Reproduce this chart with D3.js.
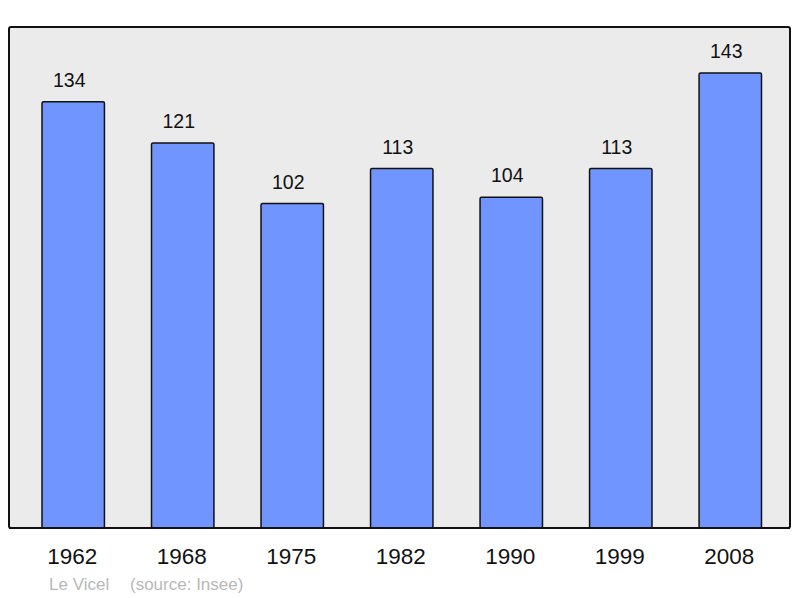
<!DOCTYPE html>
<html lang="fr">
<head>
  <meta charset="UTF-8">
  <title>Population</title>
  <script src="https://d3js.org/d3.v7.min.js"></script>
  <style>
    body, html { margin: 0; padding: 0; background: #fff; }
    svg { display: block; font-family: "Liberation Sans", Arial, sans-serif; }
  </style>
</head>
<body>
  <svg id="chart" width="800" height="598"></svg>
  <script>
    const years = ["1962", "1968", "1975", "1982", "1990", "1999", "2008"];
    const population = [134, 121, 102, 113, 104, 113, 143];
    const credit = "Le Vicel";
    const source = "(source: Insee)";

    const svg = d3.select("#chart");

    // frame of the plot
    const frame = { left: 9, top: 27, right: 790, bottom: 528 };

    svg.append("rect")
      .attr("x", frame.left)
      .attr("y", frame.top)
      .attr("width", frame.right - frame.left)
      .attr("height", frame.bottom - frame.top)
      .attr("rx", 2)
      .attr("fill", "#ebebeb")
      .attr("stroke", "#111")
      .attr("stroke-width", 2);

    const x = d3.scaleBand()
      .domain(years)
      .range([42, 761.5])
      .paddingInner(0.43)
      .paddingOuter(0);

    const y = d3.scaleLinear()
      .domain([0, 157.5])
      .range([frame.bottom, frame.top]);

    const data = years.map((yr, i) => ({ year: yr, value: population[i] }));

    svg.selectAll(".bar")
      .data(data)
      .enter().append("rect")
      .attr("class", "bar")
      .attr("x", d => x(d.year))
      .attr("y", d => y(d.value))
      .attr("width", x.bandwidth())
      .attr("height", d => y(0) - y(d.value))
      .attr("rx", 1.5)
      .attr("fill", "#7095ff")
      .attr("stroke", "#111")
      .attr("stroke-width", 1.5);

    // value labels sit a bit left of the bar centre, as in the original
    svg.selectAll(".value")
      .data(data)
      .enter().append("text")
      .attr("class", "value")
      .attr("x", d => x(d.year) + x.bandwidth() / 2 - 4)
      .attr("y", d => y(d.value) - 15)
      .attr("text-anchor", "middle")
      .attr("font-size", 19.5)
      .attr("fill", "#111")
      .text(d => d.value);

    svg.append("line")
      .attr("x1", frame.left).attr("x2", frame.right)
      .attr("y1", frame.bottom).attr("y2", frame.bottom)
      .attr("stroke", "#111").attr("stroke-width", 2);

    const axis = d3.axisBottom(x).tickSize(0).tickPadding(0);
    const gx = svg.append("g")
      .attr("transform", `translate(0,${frame.bottom + 36})`)
      .call(axis);
    gx.select(".domain").remove();
    gx.selectAll("text")
      .attr("font-size", 22.5)
      .attr("font-family", "Liberation Sans, Arial, sans-serif")
      .attr("fill", "#111")
      .attr("dx", -1)
      .attr("dy", 0);

    svg.append("text")
      .attr("x", 49)
      .attr("y", 590)
      .attr("font-size", 17)
      .attr("fill", "#b8b8b8")
      .text(credit);

    svg.append("text")
      .attr("x", 130)
      .attr("y", 590)
      .attr("font-size", 17)
      .attr("fill", "#b8b8b8")
      .text(source);
  </script>
</body>
</html>
